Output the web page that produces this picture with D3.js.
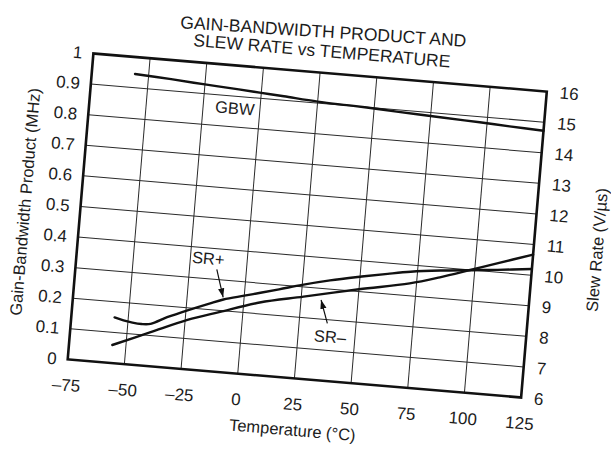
<!DOCTYPE html>
<html><head><meta charset="utf-8">
<script src="https://cdn.jsdelivr.net/npm/d3@7"></script>
<style>
body{margin:0;background:#fff}
svg{display:block}
text{font-family:"Liberation Sans",Arial,Helvetica,sans-serif;fill:#1c1c1c}
</style>
</head><body>
<svg id="chart" width="611" height="449"></svg>
<script>
// ---- data ----
const titleLines = ["GAIN-BANDWIDTH PRODUCT AND", "SLEW RATE vs TEMPERATURE"];
const xTitle = "Temperature (°C)";
const yLeftTitle = "Gain-Bandwidth Product (MHz)";
const yRightTitle = "Slew Rate (V/µs)";
const tempTicks = [-75, -50, -25, 0, 25, 50, 75, 100, 125];
const gbwTicks = [0, 0.1, 0.2, 0.3, 0.4, 0.5, 0.6, 0.7, 0.8, 0.9, 1];
const srTicks = [6, 7, 8, 9, 10, 11, 12, 13, 14, 15, 16];

const gbwTemp = [-56, -40, -25, -10, 0, 10, 25, 40, 50, 60, 75, 90, 100, 110, 125];
const gbwMHz  = [0.945, 0.938, 0.930, 0.923, 0.918, 0.913, 0.905, 0.901, 0.898, 0.894, 0.889, 0.884, 0.881, 0.877, 0.872];

const srPlusTemp = [-56, -52, -48, -44, -40, -33, -24, -15, -9, 0, 7, 15, 25, 37, 50, 62, 72, 85, 99, 110, 125];
const srPlusVus  = [7.49, 7.42, 7.37, 7.35, 7.38, 7.64, 7.93, 8.20, 8.37, 8.55, 8.69, 8.85, 9.06, 9.28, 9.48, 9.65, 9.78, 9.90, 10.0, 10.08, 10.2];

const srMinusTemp = [-56, -40, -24, -10, 7, 26, 50, 72, 85, 98, 110, 125];
const srMinusVus  = [6.59, 7.10, 7.61, 7.96, 8.37, 8.68, 9.07, 9.40, 9.68, 10.0, 10.3, 10.67];

// annotations: [label, labelTemp, labelValue, arrowFromTemp, arrowFromValue, arrowToTemp, arrowToValue]
const gbwLabel = ["GBW", -11, 0.861];
const srPlusLabel = ["SR+", -17.1, 9.66, -13.0, 9.33, -9.2, 8.44];
const srMinusLabel = ["SR–", 39.1, 7.45, 37.4, 7.88, 33.8, 8.62];

// ---- layout ----
const W = 611, H = 449;
const plot = {left: 79.75, top: 72, width: 455, height: 307};
const cx = plot.left + plot.width / 2, cy = plot.top + plot.height / 2;
const tilt = 4.8;

const svg = d3.select("#chart");
svg.append("rect").attr("width", W).attr("height", H).attr("fill", "#fff");

const root = svg.append("g").attr("transform", `rotate(${tilt},${cx},${cy})`);

const x = d3.scaleLinear().domain([-75, 125]).range([plot.left, plot.left + plot.width]);
const yL = d3.scaleLinear().domain([0, 1]).range([plot.top + plot.height, plot.top]);
const yR = d3.scaleLinear().domain([6, 16]).range([plot.top + plot.height, plot.top]);

// grid
const grid = root.append("g").attr("stroke", "#2a2a2a").attr("stroke-width", 1);
grid.selectAll("line.v").data(tempTicks.slice(1, -1)).enter().append("line")
  .attr("x1", d => x(d)).attr("x2", d => x(d))
  .attr("y1", plot.top).attr("y2", plot.top + plot.height);
grid.selectAll("line.h").data(gbwTicks.slice(1, -1)).enter().append("line")
  .attr("x1", plot.left).attr("x2", plot.left + plot.width)
  .attr("y1", d => yL(d)).attr("y2", d => yL(d));

// axes (labels only)
const fmtT = d => d < 0 ? "–" + Math.abs(d) : String(d);
const axB = root.append("g").attr("transform", `translate(0,${plot.top + plot.height})`)
  .call(d3.axisBottom(x).tickValues(tempTicks).tickFormat(fmtT).tickSize(0).tickPadding(19.5));
const axL = root.append("g").attr("transform", `translate(${plot.left},0)`)
  .call(d3.axisLeft(yL).tickValues(gbwTicks).tickFormat(d => String(d)).tickSize(0).tickPadding(11));
const axR = root.append("g").attr("transform", `translate(${plot.left + plot.width},0)`)
  .call(d3.axisRight(yR).tickValues(srTicks).tickFormat(d => String(d)).tickSize(0).tickPadding(13));
[axB, axL, axR].forEach(a => {
  a.select(".domain").remove();
  a.selectAll("text").attr("font-size", 17).attr("fill", "#1c1c1c")
    .attr("font-family", '"Liberation Sans",Arial,sans-serif');
});

// curves
const line = d3.line().curve(d3.curveCatmullRom.alpha(0.5));
const curves = root.append("g").attr("fill", "none").attr("stroke", "#111")
  .attr("stroke-width", 2.4).attr("stroke-linecap", "round").attr("stroke-linejoin", "round");
curves.append("path").attr("d", line(gbwTemp.map((t, i) => [x(t), yL(gbwMHz[i])])));
curves.append("path").attr("d", line(srPlusTemp.map((t, i) => [x(t), yR(srPlusVus[i])])));
curves.append("path").attr("d", line(srMinusTemp.map((t, i) => [x(t), yR(srMinusVus[i])])));

// border
root.append("rect").attr("x", plot.left).attr("y", plot.top)
  .attr("width", plot.width).attr("height", plot.height)
  .attr("fill", "none").attr("stroke", "#111").attr("stroke-width", 2.6);

// arrow marker
svg.append("defs").append("marker").attr("id", "ah")
  .attr("viewBox", "0 0 10 10").attr("refX", 10).attr("refY", 5)
  .attr("markerWidth", 9).attr("markerHeight", 9).attr("markerUnits", "userSpaceOnUse")
  .attr("orient", "auto")
  .append("path").attr("d", "M0,1.5 L10,5 L0,8.5 Z").attr("fill", "#111");

// labels
const ann = root.append("g");
ann.append("text").attr("x", x(gbwLabel[1])).attr("y", yL(gbwLabel[2])).attr("dy", "0.35em")
  .attr("text-anchor", "middle").attr("font-size", 16.5).text(gbwLabel[0]);
[srPlusLabel, srMinusLabel].forEach(a => {
  ann.append("text").attr("x", x(a[1])).attr("y", yR(a[2])).attr("dy", "0.35em")
    .attr("text-anchor", "middle").attr("font-size", 16.5).text(a[0]);
  ann.append("line").attr("x1", x(a[3])).attr("y1", yR(a[4]))
    .attr("x2", x(a[5])).attr("y2", yR(a[6]))
    .attr("stroke", "#111").attr("stroke-width", 1.2).attr("marker-end", "url(#ah)");
});

// titles
root.append("text").attr("x", cx).attr("y", plot.top - 35.2).attr("text-anchor", "middle")
  .attr("font-size", 17.5).attr("transform", `rotate(-1.1,${cx},${plot.top - 35.2})`).text(titleLines[0]);
root.append("text").attr("x", cx).attr("y", plot.top - 15.9).attr("text-anchor", "middle")
  .attr("font-size", 17.5).text(titleLines[1]);

root.append("text").attr("transform", `translate(24,${cy}) rotate(-90)`).attr("dy", "0.35em")
  .attr("text-anchor", "middle").attr("font-size", 16.5).text(yLeftTitle);
root.append("text").attr("transform", `translate(598,${cy}) rotate(-90)`).attr("dy", "0.35em")
  .attr("text-anchor", "middle").attr("font-size", 16.5).text(yRightTitle);
root.append("text").attr("x", 309.5).attr("y", 430.5).attr("dy", "0.35em")
  .attr("text-anchor", "middle").attr("font-size", 16.5).text(xTitle);
</script>
</body></html>
